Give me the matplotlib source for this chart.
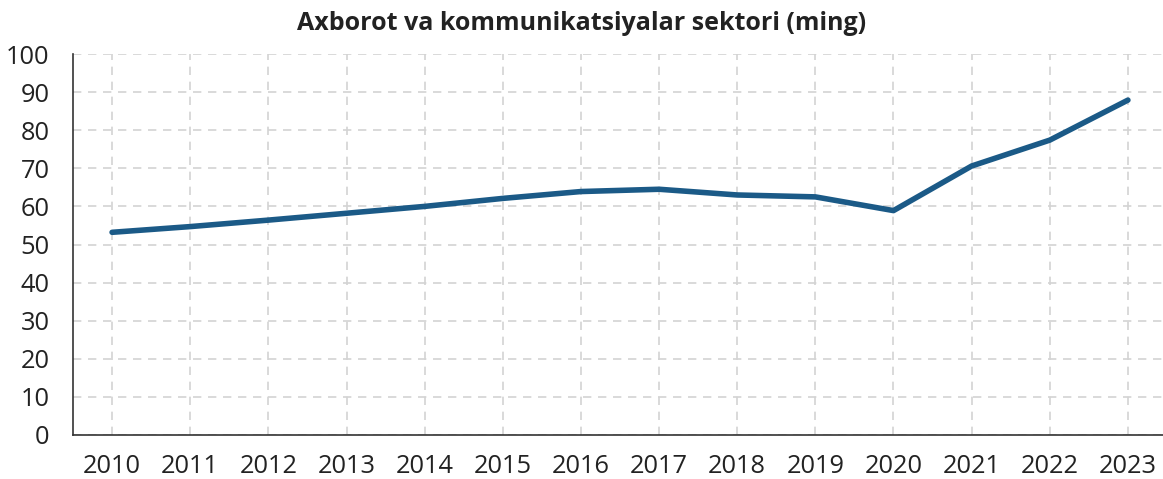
import matplotlib
matplotlib.use("Agg")
import matplotlib.pyplot as plt

years = ["2010", "2011", "2012", "2013", "2014", "2015", "2016",
         "2017", "2018", "2019", "2020", "2021", "2022", "2023"]
values = [53.2, 54.7, 56.4, 58.2, 60.0, 62.1, 63.9,
          64.5, 63.0, 62.5, 58.9, 70.6, 77.4, 87.9]
yticks = [0, 10, 20, 30, 40, 50, 60, 70, 80, 90, 100]
title = "Axborot va kommunikatsiyalar sektori (ming)"

plt.rcParams['font.family'] = ['Open Sans', 'DejaVu Sans']

fig = plt.figure(figsize=(11.63, 4.79), dpi=100)
ax = fig.add_axes([73/1163, 1-435/479, 1094/1163, (435-54)/479])

x = list(range(len(years)))
ax.plot(x, values, color="#1b5a87", linewidth=4.0, solid_capstyle="round",
        solid_joinstyle="round", zorder=3)

ax.set_xlim(-0.5, len(years) - 0.5)
ax.set_ylim(0, 100)
ax.set_xticks(x)
ax.set_xticklabels(years)
ax.set_yticks(yticks)

ax.grid(True, color="#d3d3d3", linestyle=(0, (5, 4)), linewidth=1.2)
ax.set_axisbelow(True)
for s in ["top", "right"]:
    ax.spines[s].set_visible(False)
for s in ["left", "bottom"]:
    ax.spines[s].set_color("#333333")
    ax.spines[s].set_linewidth(1.2)
ax.tick_params(axis="both", length=0, labelsize=18.3, colors="#222222")
ax.tick_params(axis="y", pad=17)
ax.tick_params(axis="x", pad=14)

fig.text(0.5, 1-23/479, title, ha="center", va="center",
         fontsize=18, fontweight="bold", color="#222222")

fig.savefig("out.png", dpi=100)
